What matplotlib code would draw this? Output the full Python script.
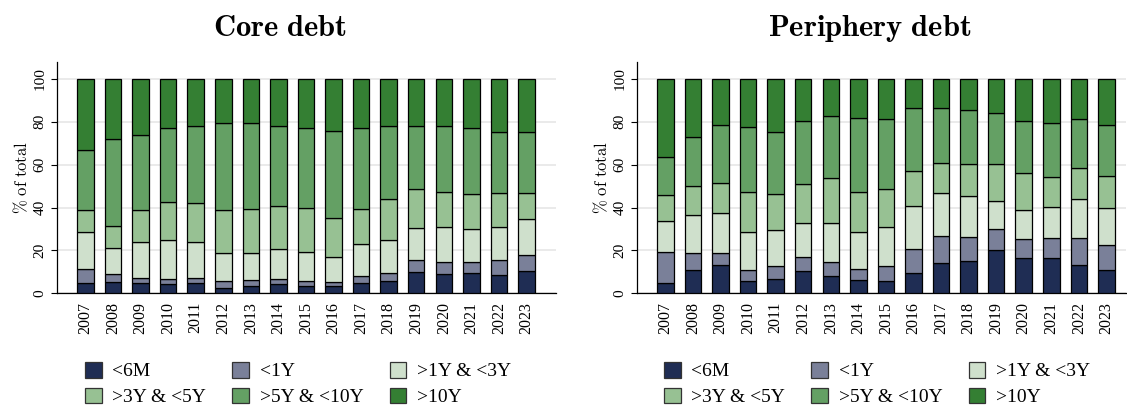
import numpy as np
import matplotlib.pyplot as plt
from matplotlib.patches import Patch

plt.rcParams['font.family'] = ['Liberation Serif', 'DejaVu Serif']
plt.rcParams['mathtext.fontset'] = 'cm'

years = [str(y) for y in range(2007, 2024)]
buckets = ['<6M', '<1Y', '>1Y & <3Y', '>3Y & <5Y', '>5Y & <10Y', '>10Y']
colors = ['#1f2d54', '#7a8099', '#cfe0cc', '#97c193', '#64a064', '#347f33']

# shares by maturity bucket, % of total
core_6m = [4.7, 5.4, 4.7, 4.2, 4.7, 2.5, 3.3, 4.2, 3.6, 3.3, 5.0, 5.9, 9.8, 8.9, 9.3, 8.6, 10.6]
core_1y = [6.8, 3.8, 2.3, 2.6, 2.6, 3.1, 2.8, 2.6, 2.3, 2.0, 3.2, 3.7, 5.6, 5.7, 5.2, 6.8, 7.1]
core_1_3 = [17.0, 12.1, 17.1, 17.9, 16.5, 13.1, 12.9, 14.0, 13.5, 11.8, 14.8, 15.1, 14.9, 16.3, 15.5, 15.4, 17.1]
core_3_5 = [10.5, 10.1, 14.9, 18.1, 18.2, 20.3, 20.5, 20.1, 20.6, 18.0, 16.3, 19.2, 18.5, 16.4, 16.2, 15.9, 12.0]
core_5_10 = [28.0, 40.5, 34.7, 34.5, 35.8, 40.3, 39.7, 36.9, 37.0, 40.8, 38.0, 34.2, 29.4, 30.8, 30.8, 28.6, 28.6]
core_10 = [33.0, 28.1, 26.3, 22.7, 22.2, 20.7, 20.8, 22.2, 23.0, 24.1, 22.7, 21.9, 21.8, 21.9, 23.0, 24.7, 24.6]

peri_6m = [5.0, 10.9, 13.2, 5.8, 6.7, 10.3, 7.9, 6.2, 5.6, 9.3, 14.2, 14.9, 20.1, 16.5, 16.6, 13.4, 11.0]
peri_1y = [14.1, 7.9, 5.5, 5.1, 5.9, 6.5, 6.7, 5.0, 7.2, 11.5, 12.7, 11.4, 9.8, 8.8, 9.2, 12.6, 11.4]
peri_1_3 = [14.6, 17.7, 18.8, 17.6, 17.1, 16.2, 18.4, 17.4, 18.0, 20.1, 20.1, 19.1, 13.2, 13.4, 14.5, 17.9, 17.4]
peri_3_5 = [12.0, 13.6, 13.8, 18.8, 16.8, 18.0, 20.8, 18.5, 17.9, 16.0, 13.7, 14.9, 17.4, 17.4, 14.1, 14.3, 15.1]
peri_5_10 = [17.9, 22.7, 27.1, 30.1, 28.5, 29.2, 28.9, 34.5, 32.8, 29.3, 25.5, 25.1, 23.5, 24.1, 25.2, 23.1, 23.8]
peri_10 = [36.4, 27.2, 21.6, 22.6, 25.0, 19.8, 17.3, 18.4, 18.5, 13.8, 13.8, 14.6, 16.0, 19.8, 20.4, 18.7, 21.3]

core = [core_6m, core_1y, core_1_3, core_3_5, core_5_10, core_10]
peri = [peri_6m, peri_1y, peri_1_3, peri_3_5, peri_5_10, peri_10]

fig = plt.figure(figsize=(11.27, 4.05), dpi=100)
ax1 = fig.add_axes([57 / 1127, 1 - 293.3 / 405, 499 / 1127, 231.6 / 405])
ax2 = fig.add_axes([637 / 1127, 1 - 293.3 / 405, 489 / 1127, 231.6 / 405])

x = np.arange(len(years))
for ax, series, xmax in [(ax1, core, 17.07), (ax2, peri, 16.71)]:
    bottom = np.zeros(len(years))
    for vals, c in zip(series, colors):
        ax.bar(x, vals, width=0.6, bottom=bottom, color=c, edgecolor='black',
               linewidth=0.9, zorder=3)
        bottom += np.array(vals)
    ax.set_xlim(-1.03, xmax)
    ax.set_ylim(0, 108)
    ax.set_yticks([0, 20, 40, 60, 80, 100])
    ax.yaxis.grid(True, color='#e6e6e6', linewidth=1.2, zorder=0)
    ax.set_xticks(x)
    ax.set_xticklabels(years, rotation=90, fontsize=11.5)
    ax.tick_params(axis='x', length=0, pad=6)
    ax.tick_params(axis='y', labelsize=11, length=4, width=0.8)
    plt.setp(ax.get_yticklabels(), rotation=90, va='center')
    for s in ['top', 'right']:
        ax.spines[s].set_visible(False)
    ax.spines['left'].set_linewidth(0.9)
    ax.spines['bottom'].set_linewidth(0.9)
    ax.set_ylabel(r'$\%\ \mathrm{of\ total}$', fontsize=12, labelpad=2)

fig.text(280 / 1127, 1 - 29 / 405, r'$\mathbf{Core\ debt}$', fontsize=22,
         ha='center', va='center')
fig.text(870 / 1127, 1 - 29 / 405, r'$\mathbf{Periphery\ debt}$', fontsize=22,
         ha='center', va='center')

handles = [Patch(facecolor=c, edgecolor='#333333', linewidth=0.9) for c in colors]
order = [0, 3, 1, 4, 2, 5]
for xa in [85 / 1127, 664 / 1127]:
    fig.legend([handles[i] for i in order], [buckets[i] for i in order],
               ncol=3, loc='upper left', bbox_to_anchor=(xa, 1 - 362 / 405),
               frameon=False, fontsize=14, borderpad=0, borderaxespad=0,
               handlelength=0.85, handleheight=0.85, handletextpad=0.55,
               columnspacing=1.35, labelspacing=0.38)

fig.savefig('out.png', dpi=100)
